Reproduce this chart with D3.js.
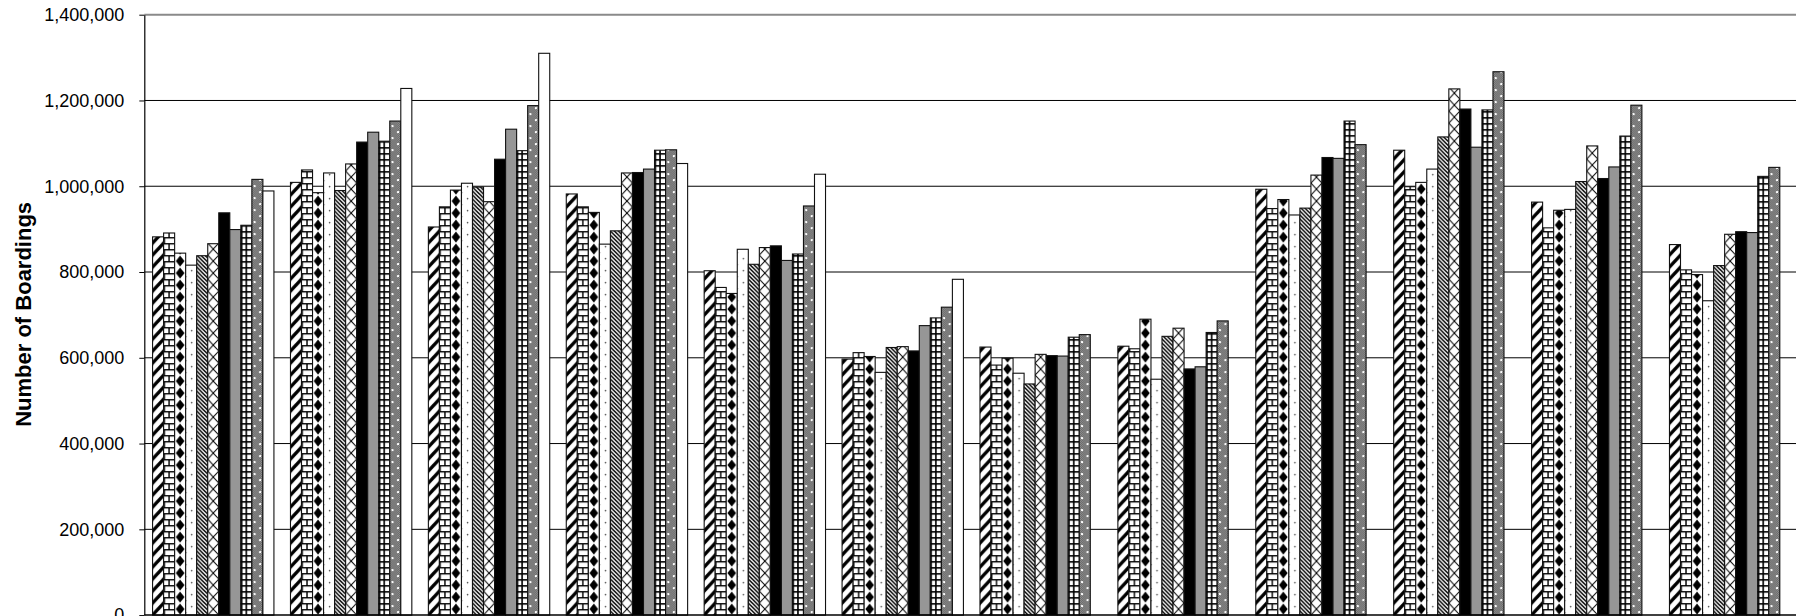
<!DOCTYPE html>
<html>
<head>
<meta charset="utf-8">
<script src="https://cdn.jsdelivr.net/npm/d3@7"></script>
<style>
  html, body { margin: 0; padding: 0; background: #fff; overflow: hidden; }
  svg { display: block; }
  text { font-family: "Liberation Sans", Arial, sans-serif; fill: #000; }
</style>
</head>
<body>
<svg id="chart" width="1796" height="616"></svg>
<script>
// ---------------- DATA ----------------
const months = ["Jan","Feb","Mar","Apr","May","Jun","Jul","Aug","Sep","Oct","Nov","Dec"];
const seriesNames = ["Series 1","Series 2","Series 3","Series 4","Series 5","Series 6",
                     "Series 7","Series 8","Series 9","Series 10","Series 11"];
// one array per series, one value per month (null = no data)
const s1  = [882000,1009000, 905000, 982000, 803000, 597000, 625000, 627000, 993000,1084000, 963000, 864000];
const s2  = [891000,1038000, 952000, 952000, 764000, 612000, 583000, 621000, 948000, 999000, 903000, 805000];
const s3  = [844000, 985000, 991000, 939000, 750000, 603000, 599000, 690000, 969000,1009000, 944000, 794000];
const s4  = [816000,1031000,1007000, 865000, 853000, 566000, 564000, 550000, 933000,1040000, 946000, 733000];
const s5  = [838000, 990000, 998000, 896000, 818000, 624000, 539000, 650000, 949000,1115000,1011000, 815000];
const s6  = [866000,1052000, 964000,1031000, 857000, 626000, 608000, 669000,1026000,1227000,1094000, 888000];
const s7  = [938000,1103000,1063000,1032000, 861000, 616000, 605000, 574000,1067000,1180000,1018000, 894000];
const s8  = [899000,1126000,1133000,1040000, 827000, 675000, 604000, 579000,1065000,1091000,1045000, 892000];
const s9  = [909000,1105000,1083000,1084000, 842000, 693000, 648000, 659000,1152000,1178000,1117000,1023000];
const s10 = [1016000,1152000,1188000,1085000, 954000, 718000, 654000, 686000,1097000,1267000,1189000,1044000];
const s11 = [989000,1228000,1310000,1053000,1028000, 783000, null, null, null, null, null, null];
const seriesValues = [s1,s2,s3,s4,s5,s6,s7,s8,s9,s10,s11];
const yTicks = [0,200000,400000,600000,800000,1000000,1200000,1400000];
const yTitle = "Number of Boardings";

// ---------------- LAYOUT ----------------
const W = 1796, H = 616;
const plotLeft = 144.3, plotTop = 14.7, plotBottom = 615.1;
const step = 137.9;

const svg = d3.select("#chart");
const defs = svg.append("defs");

const y = d3.scaleLinear().domain([0, 1400000]).range([plotBottom, plotTop]);
const x0 = d3.scaleBand().domain(months)
  .range([plotLeft, plotLeft + step * months.length])
  .paddingInner(0.12).paddingOuter(0.06);
const x1 = d3.scaleBand().domain(seriesNames).range([0, x0.bandwidth()]).padding(0);
const bw = x1.bandwidth();
const TH = 12; // pattern tile height

// ---------------- PATTERNS ----------------
function lineP(g, x1_, y1_, x2_, y2_, sw, col) {
  g.append("line").attr("x1", x1_).attr("y1", y1_).attr("x2", x2_).attr("y2", y2_)
    .attr("stroke", col || "#000").attr("stroke-width", sw);
}
const drawers = [
  // 0 wide upward diagonal
  (g, w, h) => {
    g.append("rect").attr("width", w).attr("height", h).attr("fill", "#fff");
    lineP(g, 0, h, w, 0, 3.3);
    lineP(g, -w, h, w, -h, 3.3);
    lineP(g, 0, 2 * h, 2 * w, 0, 3.3);
  },
  // 1 horizontal brick
  (g, w, h) => {
    g.append("rect").attr("width", w).attr("height", h).attr("fill", "#fff");
    g.append("rect").attr("x", 0).attr("y", 0).attr("width", w).attr("height", 1.4).attr("fill", "#000");
    g.append("rect").attr("x", 0).attr("y", h / 2).attr("width", w).attr("height", 1.4).attr("fill", "#000");
    g.append("rect").attr("x", w / 2 - 0.7).attr("y", 0).attr("width", 1.4).attr("height", h / 2).attr("fill", "#000");
    g.append("rect").attr("x", 0).attr("y", h / 2).attr("width", 1.4).attr("height", h / 2).attr("fill", "#000");
  },
  // 2 solid diamond
  (g, w, h) => {
    g.append("rect").attr("width", w).attr("height", h).attr("fill", "#fff");
    g.append("polygon").attr("points", `${w/2},0.5 ${w-1.2},${h/2} ${w/2},${h-0.5} 1.2,${h/2}`).attr("fill", "#000");
  },
  // 3 sparse dots
  (g, w, h) => {
    g.append("rect").attr("width", w).attr("height", h).attr("fill", "#fff");
    g.append("circle").attr("cx", w * 0.55).attr("cy", h * 0.3).attr("r", 0.8).attr("fill", "#444");
    g.append("circle").attr("cx", w * 0.05).attr("cy", h * 0.8).attr("r", 0.6).attr("fill", "#888");
  },
  // 4 dense downward diagonal
  (g, w, h) => {
    g.append("rect").attr("width", w).attr("height", h).attr("fill", "#fff");
    const p = 4;
    for (let k = -6; k <= 6; k++) {
      lineP(g, k * p - 2, -2, k * p + h + 2, h + 2, 1.5);
    }
  },
  // 5 diagonal crosshatch
  (g, w, h) => {
    g.append("rect").attr("width", w).attr("height", h).attr("fill", "#fff");
    lineP(g, 0, 0, w, h, 1);
    lineP(g, w, 0, 0, h, 1);
  },
  // 6 solid black
  (g, w, h) => { g.append("rect").attr("width", w).attr("height", h).attr("fill", "#000"); },
  // 7 solid gray
  (g, w, h) => { g.append("rect").attr("width", w).attr("height", h).attr("fill", "#969696"); },
  // 8 grid
  (g, w, h) => {
    g.append("rect").attr("width", w).attr("height", h).attr("fill", "#fff");
    g.append("rect").attr("x", 0).attr("y", 0).attr("width", w).attr("height", 1.6).attr("fill", "#000");
    g.append("rect").attr("x", 0).attr("y", h / 2).attr("width", w).attr("height", 1.6).attr("fill", "#000");
    g.append("rect").attr("x", 0).attr("y", 0).attr("width", 1.6).attr("height", h).attr("fill", "#000");
    g.append("rect").attr("x", w / 2 - 0.8).attr("y", 0).attr("width", 1.6).attr("height", h).attr("fill", "#000");
  },
  // 9 gray dither with white dots
  (g, w, h) => {
    g.append("rect").attr("width", w).attr("height", h).attr("fill", "#9a9a9a");
    for (let i = 0; i < Math.ceil(w); i++) {
      for (let j = 0; j < h; j++) {
        if ((i + j) % 2 === 0) g.append("rect").attr("x", i).attr("y", j).attr("width", 1).attr("height", 1).attr("fill", "#5c5c5c");
      }
    }
    g.append("rect").attr("x", w * 0.25 - 1).attr("y", h * 0.25 - 1).attr("width", 2).attr("height", 2).attr("fill", "#fff");
    g.append("rect").attr("x", w * 0.75 - 1).attr("y", h * 0.75 - 1).attr("width", 2).attr("height", 2).attr("fill", "#fff");
  },
  // 10 solid white
  (g, w, h) => { g.append("rect").attr("width", w).attr("height", h).attr("fill", "#fff"); }
];

seriesNames.forEach((s, si) => {
  [0, 1].forEach(par => {
    const xOff = x0(months[par]) + x1(s);
    const p = defs.append("pattern")
      .attr("id", `p${si}_${par}`)
      .attr("patternUnits", "userSpaceOnUse")
      .attr("x", xOff).attr("y", plotBottom)
      .attr("width", bw).attr("height", TH);
    drawers[si](p, bw, TH);
  });
});

// ---------------- GRIDLINES ----------------
const grid = svg.append("g");
yTicks.filter(t => t > 0 && t < 1400000).forEach(t => {
  grid.append("line")
    .attr("x1", plotLeft).attr("x2", W + 10)
    .attr("y1", y(t)).attr("y2", y(t))
    .attr("stroke", "#000").attr("stroke-width", 1);
});
grid.append("line")
  .attr("x1", plotLeft).attr("x2", W + 10)
  .attr("y1", y(1400000)).attr("y2", y(1400000))
  .attr("stroke", "#8a8a8a").attr("stroke-width", 2);

// ---------------- BARS ----------------
const barData = [];
seriesValues.forEach((vals, si) => {
  vals.forEach((v, mi) => {
    if (v != null) barData.push({ s: seriesNames[si], si, m: months[mi], mi, v });
  });
});
svg.append("g").selectAll("rect").data(barData).join("rect")
  .attr("x", d => x0(d.m) + x1(d.s))
  .attr("y", d => y(d.v))
  .attr("width", bw)
  .attr("height", d => y(0) - y(d.v))
  .attr("fill", d => `url(#p${d.si}_${d.mi % 2})`)
  .attr("stroke", "#111")
  .attr("stroke-width", 1.1);

// ---------------- AXES ----------------
const yAxis = d3.axisLeft(y).tickValues(yTicks).tickFormat(d3.format(","))
  .tickSizeInner(5).tickSizeOuter(0).tickPadding(15);
const ya = svg.append("g").attr("transform", `translate(${plotLeft},0)`).call(yAxis);
ya.select(".domain").attr("stroke", "#000").attr("stroke-width", 1.2);
ya.selectAll(".tick line").attr("stroke", "#000");
ya.selectAll(".tick text").attr("font-size", 18).attr("font-family", '"Liberation Sans", Arial, sans-serif').attr("fill", "#000");

// x axis baseline
svg.append("line").attr("x1", plotLeft).attr("x2", W + 10)
  .attr("y1", y(0)).attr("y2", y(0)).attr("stroke", "#000").attr("stroke-width", 1.5);

// y title
svg.append("text")
  .attr("transform", `translate(23,${(200.7 + 428) / 2}) rotate(-90)`)
  .attr("text-anchor", "middle")
  .attr("dominant-baseline", "central")
  .attr("font-size", 22)
  .attr("font-weight", "bold")
  .text(yTitle);
</script>
</body>
</html>
